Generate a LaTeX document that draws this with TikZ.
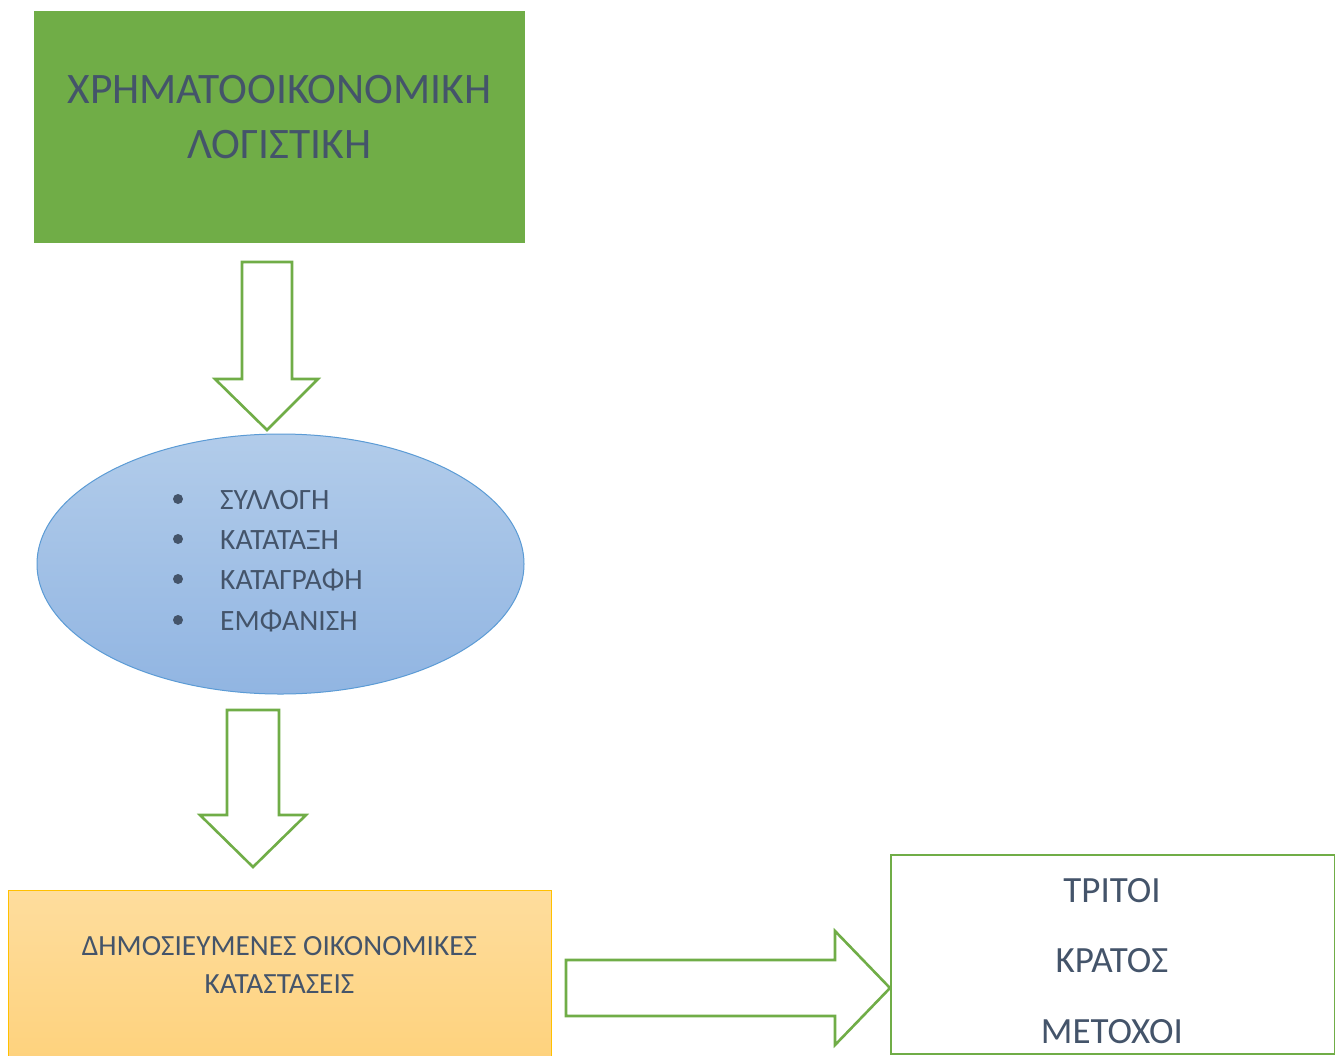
\documentclass[tikz,border=0pt]{standalone}
\usepackage{fontspec}
\setmainfont{Carlito}
\usetikzlibrary{shapes.geometric}
\definecolor{grn}{HTML}{70AD47}
\definecolor{txtc}{HTML}{44546A}
\definecolor{elltop}{HTML}{B2CCEA}
\definecolor{ellbot}{HTML}{91B5E2}
\definecolor{ellline}{HTML}{5B9BD5}
\definecolor{ortop}{HTML}{FEDD9D}
\definecolor{orbot}{HTML}{FED27D}
\definecolor{orline}{HTML}{FFC000}
\begin{document}
\begin{tikzpicture}[x=1pt,y=-1pt,
  lbl/.style={text=txtc, inner sep=0pt, anchor=base},
  blockarrow/.style={draw=grn, line width=2.6pt, fill=white, line join=miter},
  bul/.style={circle, fill=txtc, inner sep=0pt, minimum size=10pt}]
\useasboundingbox (0,0) rectangle (1335,1055);
\fill[white] (0,0) rectangle (1335,1055);
% top box
\node[fill=grn, inner sep=0pt, minimum width=491pt, minimum height=232pt] (top) at (279.5,127) {};
\node[lbl] (t1) at (279.5,103) {\fontsize{43.5}{43.5}\selectfont ΧΡΗΜΑΤΟΟΙΚΟΝΟΜΙΚΗ};
\node[lbl] (t2) at (279.5,158) {\fontsize{43.5}{43.5}\selectfont ΛΟΓΙΣΤΙΚΗ};
% arrow 1
\draw[blockarrow] (242,262) -- (292,262) -- (292,379) -- (318,379) -- (267,430) -- (215,379) -- (242,379) -- cycle;
% ellipse
\node[ellipse, draw=ellline, line width=1pt, top color=elltop, bottom color=ellbot, inner sep=0pt, minimum width=487pt, minimum height=260pt] (ell) at (280.5,564) {};
\foreach \i/\y/\w in {1/509/ΣΥΛΛΟΓΗ, 2/549/ΚΑΤΑΤΑΞΗ, 3/589/ΚΑΤΑΓΡΑΦΗ, 4/630/ΕΜΦΑΝΙΣΗ} {
  \node[bul] (b\i) at (178,\y-10) {};
  \node[lbl, anchor=base west] (e\i) at (220,\y) {\fontsize{29.5}{29.5}\selectfont \w};
}
% arrow 2
\draw[blockarrow] (227,710) -- (279,710) -- (279,815) -- (306,815) -- (253,867) -- (200,815) -- (227,815) -- cycle;
% bottom box
\node[draw=orline, line width=1.2pt, top color=ortop, bottom color=orbot, inner sep=0pt, minimum width=543pt, minimum height=170pt, anchor=north west] (pub) at (8,890) {};
\node[lbl] (p1) at (279.5,955) {\fontsize{29.3}{29.3}\selectfont ΔΗΜΟΣΙΕΥΜΕΝΕΣ ΟΙΚΟΝΟΜΙΚΕΣ};
\node[lbl] (p2) at (279.5,993) {\fontsize{29.3}{29.3}\selectfont ΚΑΤΑΣΤΑΣΕΙΣ};
% right arrow
\draw[blockarrow] (566,960) -- (835,960) -- (835,931) -- (890,988) -- (835,1045) -- (835,1016) -- (566,1016) -- cycle;
% right box
\node[draw=grn, line width=2.4pt, fill=white, inner sep=0pt, minimum width=444pt, minimum height=199pt, anchor=north west] (aud) at (890,854) {};
\node[lbl] (r1) at (1112,902) {\fontsize{37}{37}\selectfont ΤΡΙΤΟΙ};
\node[lbl] (r2) at (1112,972) {\fontsize{37}{37}\selectfont ΚΡΑΤΟΣ};
\node[lbl] (r3) at (1112,1043) {\fontsize{37}{37}\selectfont ΜΕΤΟΧΟΙ};
\end{tikzpicture}
\end{document}
